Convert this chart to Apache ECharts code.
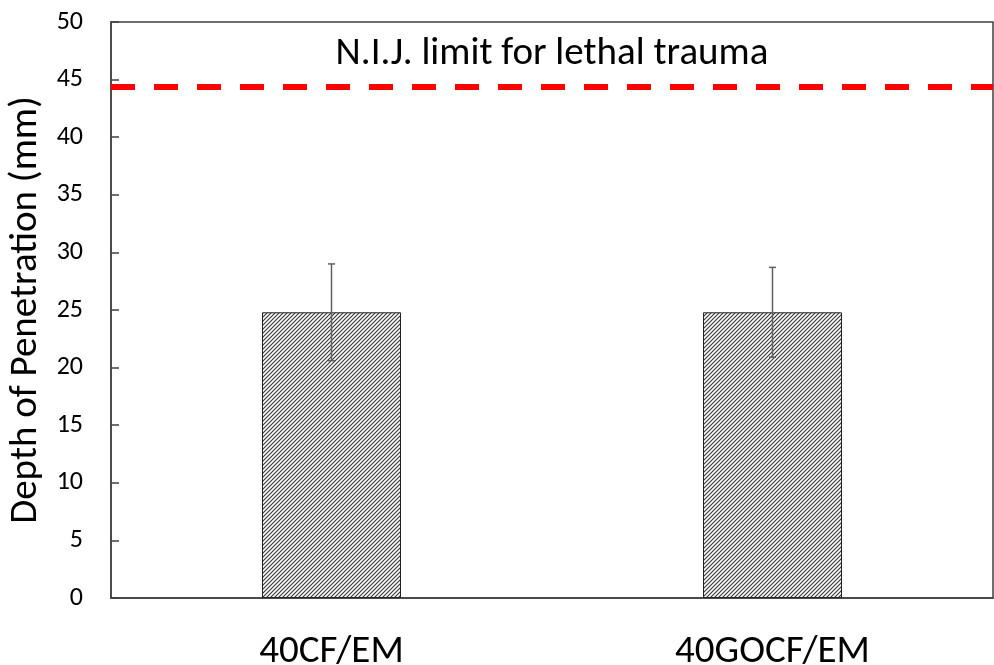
<!DOCTYPE html>
<html>
<head>
<meta charset="utf-8">
<script src="https://cdn.jsdelivr.net/npm/echarts@6/dist/echarts.min.js"></script>
<style>html,body{margin:0;padding:0;background:#fff}#c{width:994px;height:665px}</style>
</head>
<body>
<div id="c"></div>
<script>
const categories = ['40CF/EM', '40GOCF/EM'];
const depthMean = [24.8, 24.8];
const depthErr = [4.2, 3.9];
const limitValue = 44.4;
const limitLabel = 'N.I.J. limit for lethal trauma';
const yTitle = 'Depth of Penetration (mm)';

const FONT = 'Calibri, Carlito, Lato, sans-serif';

// hatch pattern
const pc = document.createElement('canvas');
pc.width = 4; pc.height = 4;
const g = pc.getContext('2d');
g.fillStyle = '#fff'; g.fillRect(0, 0, 4, 4);
g.strokeStyle = '#333'; g.lineWidth = 1.1;
g.beginPath();
g.moveTo(-1, 5); g.lineTo(5, -1);
g.moveTo(-1, 1); g.lineTo(1, -1);
g.moveTo(3, 5); g.lineTo(5, 3);
g.stroke();

const errData = categories.map((c, i) => [i, depthMean[i] - depthErr[i], depthMean[i] + depthErr[i]]);

const chart = echarts.init(document.getElementById('c'), null, {renderer: 'canvas'});
chart.setOption({
  animation: false,
  backgroundColor: '#fff',
  grid: {left: 111, right: 1, top: 22, bottom: 67, containLabel: false, outerBoundsMode: 'none',
         show: true, borderColor: '#404040', borderWidth: 1.5, backgroundColor: 'transparent'},
  xAxis: {
    type: 'category',
    data: categories,
    boundaryGap: true,
    axisLine: {lineStyle: {color: '#404040', width: 1.5}},
    axisTick: {inside: true, length: 14, alignWithLabel: false, lineStyle: {color: '#404040', width: 1.5}},
    axisLabel: {color: '#000', fontFamily: FONT, fontSize: 39, margin: 35}
  },
  yAxis: {
    type: 'value',
    min: 0, max: 50, interval: 5,
    splitLine: {show: false},
    axisLine: {show: true, lineStyle: {color: '#404040', width: 1.5}},
    axisTick: {show: true, inside: true, length: 8, lineStyle: {color: '#404040', width: 1.5}},
    axisLabel: {color: '#000', fontFamily: FONT, fontSize: 26, margin: 28},
    name: yTitle,
    nameLocation: 'middle',
    nameGap: 59,
    nameTextStyle: {color: '#000', fontFamily: FONT, fontSize: 39}
  },
  series: [
    {
      type: 'bar',
      data: depthMean,
      barWidth: 139,
      itemStyle: {color: {image: pc, repeat: 'repeat'}, borderColor: '#222', borderWidth: 1},
      markLine: {
        silent: true,
        symbol: ['none', 'none'],
        data: [{yAxis: limitValue}],
        lineStyle: {color: '#ff0000', width: 6, type: [24, 19]},
        label: {show: true, position: 'middle', formatter: limitLabel, color: '#000', fontFamily: FONT, fontSize: 39, distance: 13}
      },
      z: 2
    },
    {
      type: 'custom',
      data: errData,
      z: 5,
      renderItem: function (params, api) {
        const x = api.value(0);
        const lo = api.coord([x, api.value(1)]);
        const hi = api.coord([x, api.value(2)]);
        const cap = 3.5;
        const st = {stroke: '#606060', lineWidth: 1.5};
        return {
          type: 'group',
          children: [
            {type: 'line', shape: {x1: hi[0], y1: hi[1], x2: lo[0], y2: lo[1]}, style: st},
            {type: 'line', shape: {x1: hi[0] - cap, y1: hi[1], x2: hi[0] + cap, y2: hi[1]}, style: st},
            {type: 'line', shape: {x1: lo[0] - cap, y1: lo[1], x2: lo[0] + cap, y2: lo[1]}, style: st}
          ]
        };
      }
    }
  ]
});
</script>
</body>
</html>
